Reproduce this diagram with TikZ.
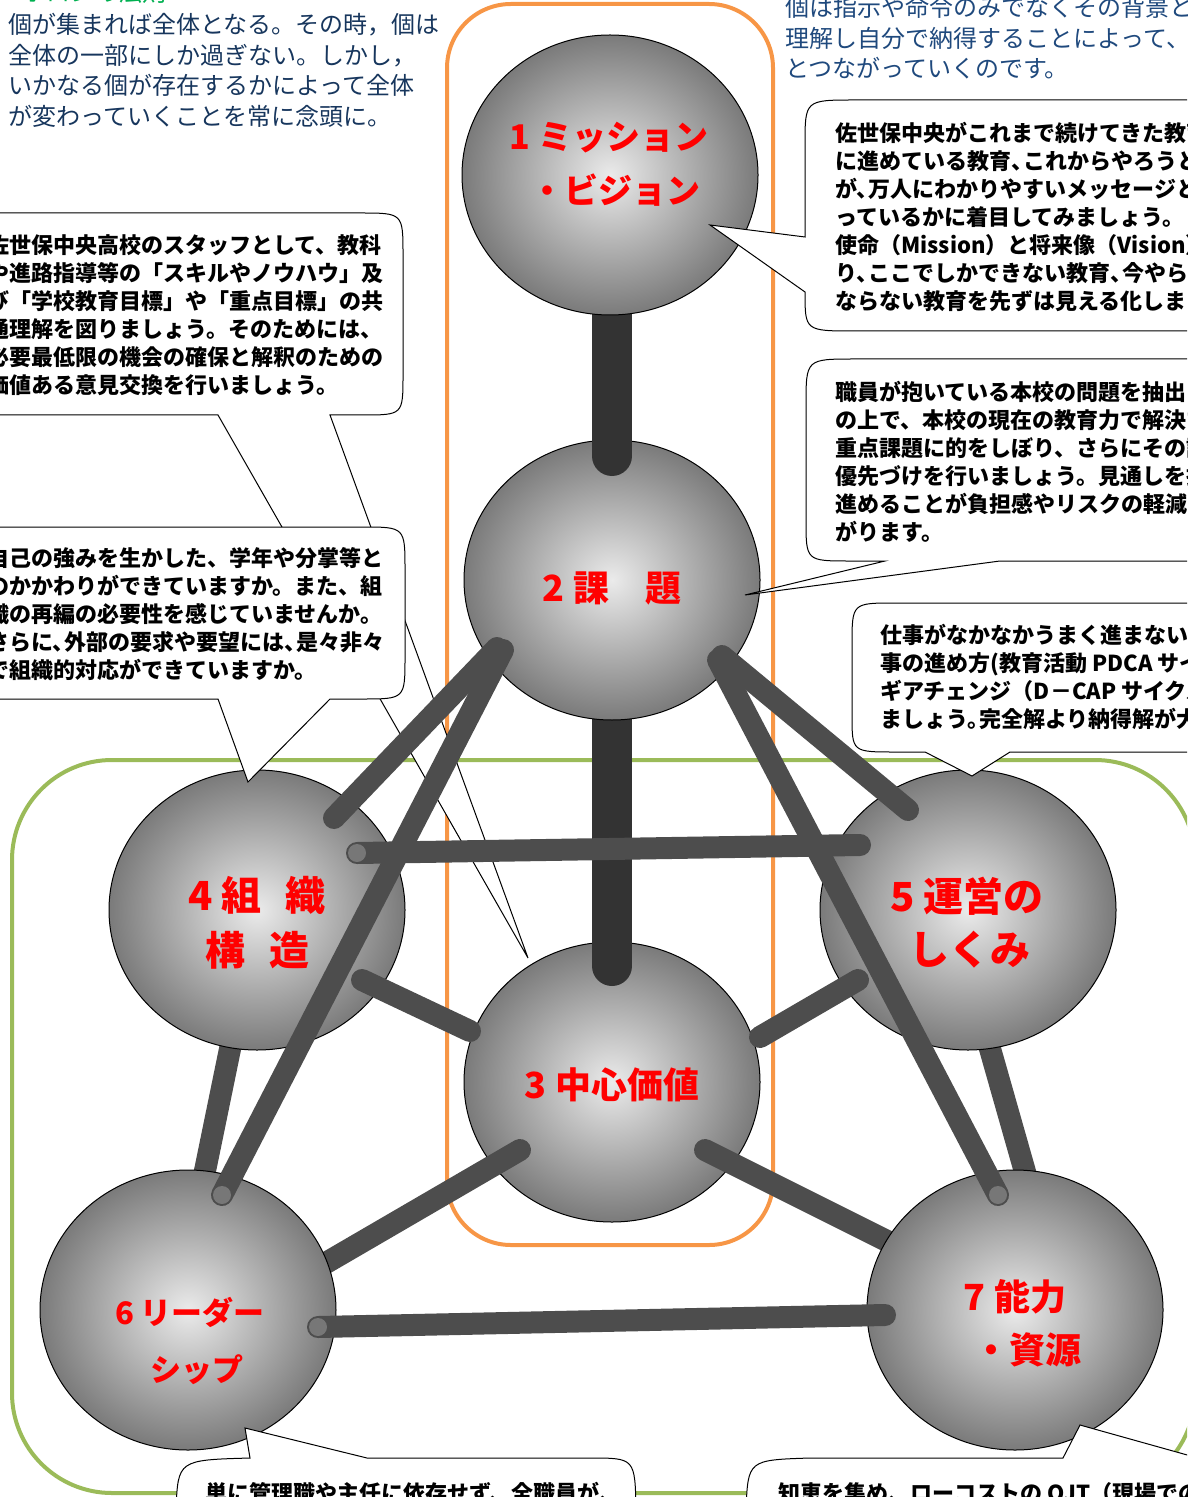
\documentclass[tikz,border=0pt]{standalone}
\usepackage{fontspec}
\setmainfont{Noto Sans CJK JP}
\newfontfamily\jpfont{Noto Sans CJK JP}
\newfontfamily\labfont{Noto Sans CJK JP}
\usetikzlibrary{shapes.geometric}
\definecolor{navyA}{HTML}{17365D}
\definecolor{navyB}{HTML}{1F497D}
\definecolor{grtxt}{HTML}{00B050}
\definecolor{frameor}{HTML}{F79646}
\definecolor{framegr}{HTML}{9BBB59}
\definecolor{rodc}{HTML}{4D4D4D}
\definecolor{rodvc}{HTML}{333333}
\definecolor{capc}{HTML}{777777}
\pgfdeclareradialshading{ballsh}{\pgfpoint{0bp}{0bp}}{color(0bp)=(black!8); color(25bp)=(black!52); color(50bp)=(black!52)}
\newcommand\hcm{、\kern-5pt}
\newcommand\hpd{。\kern-5pt}
\begin{document}
\begin{tikzpicture}[x=0.5pt,y=-0.5pt,
  ball/.style={ellipse, draw=black, line width=0.5pt, shade, shading=ballsh, minimum width=148pt, minimum height=140pt, inner sep=0pt},
  rod/.style={line width=11pt, draw=rodc, line cap=round},
  rodv/.style={line width=20pt, draw=rodvc, line cap=round},
  capdot/.style={fill=capc},
  lab/.style={text=red, inner sep=0pt, font=\labfont\bfseries\fontsize{17pt}{20pt}\selectfont},
  labB/.style={lab, font=\labfont\bfseries\fontsize{18pt}{21pt}\selectfont},
  labC/.style={lab, font=\labfont\bfseries\fontsize{20pt}{23pt}\selectfont},
  labD/.style={lab, font=\labfont\bfseries\fontsize{15.5pt}{19pt}\selectfont},
  bub/.style={draw=black, line width=0.5pt, fill=white},
  btxt/.style={anchor=north west, align=left, inner sep=0pt, font=\jpfont\bfseries\fontsize{11pt}{14pt}\selectfont},
  bluetxt/.style={anchor=north west, align=left, inner sep=0pt, font=\jpfont\fontsize{12pt}{15.3pt}\selectfont},
  oframe/.style={draw=frameor, line width=2pt, rounded corners=32pt},
  gframe/.style={draw=framegr, line width=2pt, rounded corners=50pt}
]
\useasboundingbox (0,0) rectangle (1187,1497);
\clip (0,0) rectangle (1187,1497);

% frames
\draw[oframe] (447,4) rectangle (773,1245);
\draw[gframe] (12,760) rectangle (1195,1493);

% rod coordinates
\coordinate (a46) at (238,1010); \coordinate (b46) at (199,1200);
\coordinate (a57) at (979,1010); \coordinate (b57) at (1033,1200);
\coordinate (a63) at (300,1278); \coordinate (b63) at (520,1150);
\coordinate (a73) at (905,1250); \coordinate (b73) at (705,1150);
\coordinate (a43) at (362,980);  \coordinate (b43) at (470,1031);
\coordinate (a53) at (858,980);  \coordinate (b53) at (760,1037);
\coordinate (a23) at (612,700);  \coordinate (b23) at (612,966);
\coordinate (a12) at (612,300);  \coordinate (b12) at (612,456);
\coordinate (a24) at (497,648);  \coordinate (b24) at (334,818);
\coordinate (a26) at (503,650);  \coordinate (b26) at (222,1195);
\coordinate (a25) at (722,656);  \coordinate (b25) at (908,810);
\coordinate (a27) at (718,660);  \coordinate (b27) at (998,1195);
\coordinate (a45) at (357,853);  \coordinate (b45) at (860,845);
\coordinate (a67) at (318,1327); \coordinate (b67) at (885,1315);

% rods hidden under spheres
\draw[rod] (a46) -- (b46);
\draw[rod] (a57) -- (b57);
\node[ball] (s3) at (612,1082) {};
\draw[rod] (b63) -- (a63);
\draw[rod] (b73) -- (a73);
\node[ball] (s6) at (188,1310) {};
\node[ball] (s7) at (1015,1310) {};
\node[ball] (s4) at (257,910) {};
\node[ball] (s5) at (968,910) {};
\draw[rod] (a43) -- (b43);
\draw[rod] (a53) -- (b53);
\draw[rodv] (a23) -- (b23);
\node[ball] (s2) at (612,580) {};
\draw[rodv] (a12) -- (b12);
\node[ball] (s1) at (610,175) {};

% callouts
\draw[bub] (330,415) -- (362,415) .. controls (403,415) .. (403,375) -- (403,255) .. controls (403,213) .. (360,213) -- (-40,213) -- (-40,415) -- (218,415) -- (528,958) -- cycle;
\draw[bub] (330,699) -- (362,699) .. controls (405,699) .. (405,657) -- (405,570) .. controls (405,527) .. (362,527) -- (-40,527) -- (-40,699) -- (218,699) -- (248,782) -- cycle;
\draw[bub] (805,292) .. controls (805,331) .. (855,331) -- (1240,331) -- (1240,100) -- (855,100) .. controls (805,100) .. (805,145) -- (805,237) -- (710,225) -- cycle;
\draw[bub] (1000,561) -- (1240,561) -- (1240,359) -- (855,359) .. controls (806,359) .. (806,405) -- (806,520) .. controls (806,561) .. (850,561) -- (885,561) -- (745,595) -- cycle;
\draw[bub] (1010,752) -- (1240,752) -- (1240,603) -- (895,603) .. controls (852,603) .. (852,645) -- (852,715) .. controls (852,752) .. (895,752) -- (925,752) -- (972,776) -- cycle;
\draw[bub] (250,1458) -- (245,1428) -- (367,1458) -- (590,1458) .. controls (635,1458) .. (636,1510) -- (636,1560) -- (176,1560) -- (176,1510) .. controls (178,1460) .. (250,1458) -- cycle;
\draw[bub] (1063,1458) -- (1080,1425) -- (1198,1458) -- (1240,1458) -- (1240,1560) -- (746,1560) -- (746,1510) .. controls (748,1460) .. (810,1458) -- cycle;

% rods on top
\draw[rod] (a24) -- (b24);
\draw[rod] (a26) -- (b26);
\draw[rod] (a25) -- (b25);
\draw[rod] (a27) -- (b27);
\draw[rod] (a45) -- (b45);
\draw[rod] (a67) -- (b67);
\fill[capdot] (a45) circle [radius=9];
\fill[capdot] (a67) circle [radius=9];
\fill[capdot] (b26) circle [radius=9];
\fill[capdot] (b27) circle [radius=9];

% sphere labels
\node[lab] (l1a) at (609,138) {1 ミッション};
\node[lab] (l1b) at (615,190) {・ビジョン};
\node[labB] (l2) at (612,588) {2 課\hspace{18pt}題};
\node[labB] (l3) at (612,1085) {3 中心価値};
\node[labC] (l4a) at (257,895) {4 組\hspace{12pt}織};
\node[labC] (l4b) at (257,950) {構\hspace{12pt}造};
\node[labC] (l5a) at (967,896) {5 運営の};
\node[labC] (l5b) at (970,950) {しくみ};
\node[labD] (l6a) at (190,1312) {6 リーダー};
\node[labD] (l6b) at (197,1370) {シップ};
\node[labB] (l7a) at (1015,1297) {7 能力};
\node[labB] (l7b) at (1027,1350) {・資源};

% blue texts
\node[bluetxt, text=grtxt] (gt) at (22,-19) {ホロンの法則};
\node[bluetxt, text=navyA] (tl) at (8,13) {個が集まれば全体となる。その時，個は\\全体の一部にしか過ぎない。しかし，\\いかなる個が存在するかによって全体\\が変わっていくことを常に念頭に。};
\node[bluetxt, text=navyB] (tr) at (785,-4) {個は指示や命令のみでなくその背景と\\理解し自分で納得することによって、\\とつながっていくのです。};

% callout texts
\node[btxt] (c1) at (-13,234) {佐世保中央高校のスタッフとして、教科\\や進路指導等の「スキルやノウハウ」及\\び「学校教育目標」や「重点目標」の共\\通理解を図りましょう。そのためには、\\必要最低限の機会の確保と解釈のための\\価値ある意見交換を行いましょう。};
\node[btxt] (c2) at (-13,547) {自己の強みを生かした、学年や分掌等と\\のかかわりができていますか。また、組\\織の再編の必要性を感じていませんか。\\さらに\hcm 外部の要求や要望には\hcm 是々非々\\で組織的対応ができていますか。};
\node[btxt] (c3) at (835,122) {佐世保中央がこれまで続けてきた教育\\に進めている教育\hcm これからやろうと\\が\hcm 万人にわかりやすいメッセージと\\っているかに着目してみましょう。\\使命（Mission）と将来像（Vision）\\り\hcm ここでしかできない教育\hcm 今やら\\ならない教育を先ずは見える化しまし};
\node[btxt] (c4) at (835,381) {職員が抱いている本校の問題を抽出\\の上で、本校の現在の教育力で解決す\\重点課題に的をしぼり、さらにその課\\優先づけを行いましょう。見通しを持\\進めることが負担感やリスクの軽減に\\がります。};
\node[btxt] (c5) at (880,624) {仕事がなかなかうまく進まない時\\事の進め方(教育活動 PDCA サイク\\ギアチェンジ（D－CAP サイクル）\\ましょう\hpd 完全解より納得解が大};
\node[btxt] (c6) at (205,1482) {単に管理職や主任に依存せず、全職員が、};
\node[btxt] (c7) at (778,1482) {知恵を集め、ローコストの OJT（現場での研};
\end{tikzpicture}
\end{document}
